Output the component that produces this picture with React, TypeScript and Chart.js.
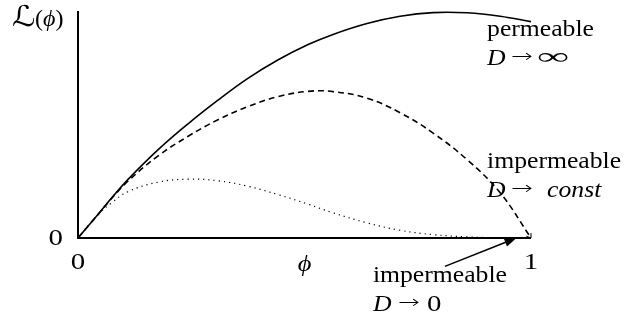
import React, { useEffect, useRef } from "react";
import { Chart, registerables } from "chart.js";

Chart.register(...registerables);

// ---- data ----
const phi = [0, 0.044, 0.075, 0.11, 0.177, 0.243, 0.309, 0.375, 0.442, 0.508, 0.563, 0.638, 0.711, 0.784, 0.859, 0.932, 1.0];
const permeable = [0, 0.104, 0.178, 0.257, 0.389, 0.503, 0.607, 0.703, 0.785, 0.852, 0.897, 0.945, 0.977, 0.993, 0.992, 0.977, 0.953];
const impermeableConst = [0, 0.103, 0.176, 0.25, 0.362, 0.448, 0.521, 0.579, 0.623, 0.646, 0.645, 0.616, 0.552, 0.462, 0.345, 0.199, 0.0];
const impermeableZero = [0, 0.103, 0.156, 0.204, 0.246, 0.259, 0.252, 0.228, 0.191, 0.149, 0.111, 0.067, 0.034, 0.015, 0.005, 0.001, 0];

const xTicks = [0, 1];
const xTickLabels = ["0", "1"];
const yTicks = [0];
const yTickLabels = ["0"];
const xTitle = "ϕ";

// annotation anchors in data coordinates
const arrowFrom = [0.81, -0.125];
const arrowTo = [0.968, 0];

const SERIF = '"Liberation Serif", "DejaVu Serif", "DejaVu Sans", serif';
const SANS = '"DejaVu Sans", "Liberation Serif", serif';
const SIZE = 24;
const SX = 1.07;

type Seg = {
  t: string;
  italic?: boolean;
  weight?: number;
  family?: string;
  size?: number;
  sx?: number;
  at?: number;
  dy?: number;
};

function drawSegs(
  ctx: CanvasRenderingContext2D,
  segs: Seg[],
  x: number,
  y: number,
  align: "left" | "center" | "right" = "left"
) {
  ctx.save();
  ctx.textBaseline = "alphabetic";
  ctx.textAlign = "left";
  ctx.fillStyle = "#000";
  const fonts = segs.map(
    (s) =>
      `${s.italic ? "italic " : ""}${s.weight ? s.weight + " " : ""}${s.size ?? SIZE}px ${s.family ?? SERIF}`
  );
  const widths = segs.map((s, i) => {
    ctx.font = fonts[i];
    return ctx.measureText(s.t).width * (s.sx ?? SX);
  });
  const total = widths.reduce((a, b) => a + b, 0);
  const start = align === "left" ? x : align === "center" ? x - total / 2 : x - total;
  let cx = start;
  segs.forEach((s, i) => {
    if (s.at !== undefined) cx = start + s.at;
    ctx.save();
    ctx.font = fonts[i];
    ctx.translate(cx, y + (s.dy ?? 0));
    ctx.scale(s.sx ?? SX, 1);
    ctx.fillText(s.t, 0, 0);
    ctx.restore();
    cx += widths[i];
  });
  ctx.restore();
}

const decorPlugin = {
  id: "decor",
  beforeDatasetsDraw(chart: any) {
    const ctx: CanvasRenderingContext2D = chart.ctx;
    const { left, right, top, bottom } = chart.chartArea;
    ctx.save();
    ctx.strokeStyle = "#000";
    ctx.lineWidth = 2;
    ctx.beginPath();
    ctx.moveTo(left, top);
    ctx.lineTo(left, bottom);
    ctx.lineTo(right, bottom);
    ctx.stroke();
    ctx.restore();
  },
  afterDatasetsDraw(chart: any) {
    const ctx: CanvasRenderingContext2D = chart.ctx;
    const xs = chart.scales.x;
    const ys = chart.scales.y;
    const px = (v: number) => xs.getPixelForValue(v);
    const py = (v: number) => ys.getPixelForValue(v);

    // arrow pointing at the end of the D -> 0 curve
    const x0 = px(arrowFrom[0]);
    const y0 = py(arrowFrom[1]);
    const x1 = px(arrowTo[0]);
    const y1 = py(arrowTo[1]);
    const ang = Math.atan2(y1 - y0, x1 - x0);
    const hl = 12;
    const hw = 4.5;
    ctx.save();
    ctx.strokeStyle = "#000";
    ctx.fillStyle = "#000";
    ctx.lineWidth = 1.6;
    ctx.beginPath();
    ctx.moveTo(x0, y0);
    ctx.lineTo(x1 - Math.cos(ang) * hl * 0.8, y1 - Math.sin(ang) * hl * 0.8);
    ctx.stroke();
    ctx.beginPath();
    ctx.moveTo(x1, y1);
    ctx.lineTo(
      x1 - Math.cos(ang) * hl + Math.sin(ang) * hw,
      y1 - Math.sin(ang) * hl - Math.cos(ang) * hw
    );
    ctx.lineTo(
      x1 - Math.cos(ang) * hl - Math.sin(ang) * hw,
      y1 - Math.sin(ang) * hl + Math.cos(ang) * hw
    );
    ctx.closePath();
    ctx.fill();

    // small open arrow tip at the end of the dashed curve
    const n = phi.length;
    const ex = px(phi[n - 1]);
    const ey = py(impermeableConst[n - 1]);
    const bx = px(phi[n - 2]);
    const by = py(impermeableConst[n - 2]);
    const a2 = Math.atan2(ey - by, ex - bx);
    const bl = 5;
    ctx.lineWidth = 1;
    ctx.beginPath();
    ctx.moveTo(ex - Math.cos(a2 - 0.6) * bl, ey - Math.sin(a2 - 0.6) * bl);
    ctx.lineTo(ex, ey);
    ctx.lineTo(ex - Math.cos(a2 + 0.6) * bl, ey - Math.sin(a2 + 0.6) * bl);
    ctx.stroke();
    ctx.restore();

    // tick labels
    xTicks.forEach((v, i) =>
      drawSegs(ctx, [{ t: xTickLabels[i], sx: 1.2 }], px(v), py(0) + 31, "center")
    );
    yTicks.forEach((v, i) =>
      drawSegs(ctx, [{ t: yTickLabels[i], sx: 1.2 }], px(0) - 15, py(v) + 7, "right")
    );

    // axis titles
    drawSegs(ctx, [{ t: xTitle, italic: true, sx: 1.1 }], (px(0) + px(1)) / 2, py(0) + 33, "center");
    drawSegs(
      ctx,
      [
        { t: "ℒ", family: SANS, size: 29, sx: 1.12 },
        { t: "(", at: 23, sx: 1.0 },
        { t: "ϕ", italic: true, sx: 1.0 },
        { t: ")", sx: 1.0 },
      ],
      12,
      py(1) + 15,
      "left"
    );

    const arrowSeg = (at: number): Seg => ({
      t: "→",
      family: SANS,
      weight: 200,
      size: 18,
      sx: 1.45,
      dy: -3,
      at,
    });
    const infSeg: Seg = { t: "∞", family: SANS, weight: 200, size: 23, sx: 1.95, at: 50, dy: -1 };

    // curve labels
    const lx = px(0.903);
    drawSegs(ctx, [{ t: "permeable" }], lx, py(0.89));
    drawSegs(ctx, [{ t: "D", italic: true }, arrowSeg(24), infSeg], lx, py(0.763));
    drawSegs(ctx, [{ t: "impermeable" }], lx, py(0.31));
    drawSegs(
      ctx,
      [{ t: "D", italic: true }, arrowSeg(24), { t: "const", italic: true, at: 60 }],
      lx,
      py(0.182)
    );
    const lx2 = px(0.651);
    drawSegs(ctx, [{ t: "impermeable" }], lx2, py(-0.196));
    drawSegs(
      ctx,
      [{ t: "D", italic: true }, arrowSeg(25), { t: "0", sx: 1.2, at: 54 }],
      lx2,
      py(-0.323)
    );
  },
};

export default function App() {
  const ref = useRef<HTMLCanvasElement | null>(null);

  useEffect(() => {
    document.body.style.margin = "0";
    const canvas = ref.current;
    if (!canvas) return;
    const toPts = (ys: number[]) => phi.map((x, i) => ({ x, y: ys[i] }));
    const common = { borderColor: "#000", pointRadius: 0, tension: 0.4, fill: false };
    const chart = new Chart(canvas, {
      type: "line",
      data: {
        datasets: [
          { label: "permeable, D → ∞", data: toPts(permeable), borderWidth: 1.6, ...common },
          {
            label: "impermeable, D → const",
            data: toPts(impermeableConst),
            borderWidth: 1.6,
            borderDash: [6, 4],
            ...common,
          },
          {
            label: "impermeable, D → 0",
            data: toPts(impermeableZero),
            borderWidth: 1.2,
            borderDash: [1.2, 4],
            ...common,
          },
        ],
      },
      options: {
        responsive: false,
        animation: false,
        devicePixelRatio: 1,
        layout: { padding: { left: 78, right: 105, top: 11, bottom: 82 } },
        plugins: { legend: { display: false }, tooltip: { enabled: false } },
        scales: {
          x: { type: "linear", min: 0, max: 1, display: false },
          y: { type: "linear", min: 0, max: 1, display: false },
        },
        elements: { line: { borderCapStyle: "butt" } },
      } as any,
      plugins: [decorPlugin],
    });
    return () => chart.destroy();
  }, []);

  return (
    <div style={{ width: 636, height: 320, background: "#fff" }}>
      <canvas ref={ref} width={636} height={320} style={{ display: "block" }} />
    </div>
  );
}
